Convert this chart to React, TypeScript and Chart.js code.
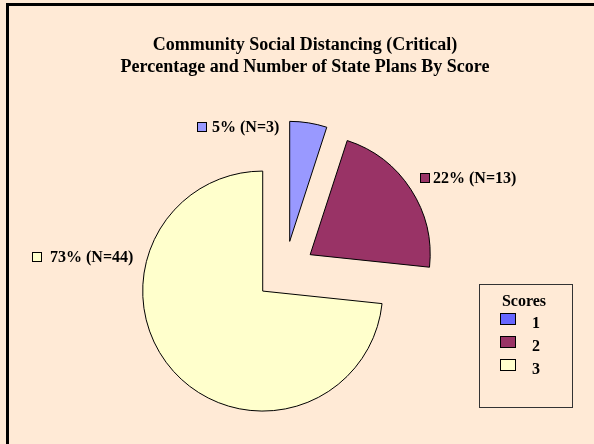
import React, { useEffect, useRef } from "react";
import { Chart, registerables } from "chart.js";

Chart.register(...registerables);

// ---- data ----
const categories = ["1", "2", "3"];
const counts = [3, 13, 44];
const percentLabels = ["5%", "22%", "73%"];
const titleLines = [
  "Community Social Distancing (Critical)",
  "Percentage and Number of State Plans By Score",
];
const legendTitle = "Scores";

// ---- styles ----
const sliceColors = ["#9999FF", "#993366", "#FFFFCC"];
const legendColors = ["#6666FF", "#993366", "#FFFFCC"];
const BG = "#FFEAD6";
const FONT = '"Liberation Serif", "Times New Roman", serif';
const EXPLODE = 30;

// label anchors (swatch top-left) for each slice label
const labelAnchors = [
  { x: 197, y: 122, gap: 15 },
  { x: 420, y: 173, gap: 13 },
  { x: 32, y: 252, gap: 18 },
];

const explodePlugin = {
  id: "explode",
  afterDatasetsUpdate(chart: any) {
    const meta = chart.getDatasetMeta(0);
    meta.data.forEach((arc: any) => {
      const mid = (arc.startAngle + arc.endAngle) / 2;
      arc.x += Math.cos(mid) * EXPLODE;
      arc.y += Math.sin(mid) * EXPLODE;
    });
  },
};

const decorPlugin = {
  id: "decor",
  beforeDraw(chart: any) {
    const ctx = chart.ctx as CanvasRenderingContext2D;
    ctx.save();
    ctx.fillStyle = BG;
    ctx.fillRect(0, 0, chart.width, chart.height);
    ctx.fillStyle = "#000";
    ctx.fillRect(6, 3, chart.width, 3);
    ctx.fillRect(6, 3, 3, chart.height);
    ctx.restore();
  },
  afterDraw(chart: any) {
    const ctx = chart.ctx as CanvasRenderingContext2D;
    ctx.save();
    ctx.fillStyle = "#000";
    ctx.textBaseline = "alphabetic";
    // title
    ctx.font = `bold 18px ${FONT}`;
    ctx.textAlign = "center";
    ctx.fillText(titleLines[0], 305, 50);
    ctx.fillText(titleLines[1], 305, 72);

    // slice labels
    ctx.font = `bold 16px ${FONT}`;
    ctx.textAlign = "left";
    counts.forEach((n, i) => {
      const a = labelAnchors[i];
      ctx.fillStyle = sliceColors[i];
      ctx.fillRect(a.x, a.y, 10, 10);
      ctx.strokeStyle = "#000";
      ctx.lineWidth = 1;
      ctx.strokeRect(a.x + 0.5, a.y + 0.5, 9, 9);
      ctx.fillStyle = "#000";
      ctx.fillText(`${percentLabels[i]} (N=${n})`, a.x + a.gap, a.y + 10);
    });

    // legend box
    ctx.strokeStyle = "#333";
    ctx.lineWidth = 1;
    ctx.strokeRect(479.5, 284.5, 93, 123);
    ctx.textAlign = "center";
    ctx.fillText(legendTitle, 524, 306);
    ctx.textAlign = "left";
    categories.forEach((c, i) => {
      const y = 313 + i * 23;
      ctx.fillStyle = legendColors[i];
      ctx.fillRect(500, y, 16, 12);
      ctx.strokeStyle = "#000";
      ctx.strokeRect(500.5, y + 0.5, 15, 11);
      ctx.fillStyle = "#000";
      ctx.fillText(c, 532, y + 15);
    });
    ctx.restore();
  },
};

export default function App() {
  const ref = useRef<HTMLCanvasElement | null>(null);
  useEffect(() => {
    document.body.style.margin = "0";
    if (!ref.current) return;
    const chart = new Chart(ref.current, {
      type: "pie",
      data: {
        labels: categories,
        datasets: [
          {
            data: counts,
            backgroundColor: sliceColors,
            borderColor: "#000",
            borderWidth: 1,
            radius: 120,
          } as any,
        ],
      },
      options: {
        animation: false,
        responsive: true,
        maintainAspectRatio: false,
        events: [],
        layout: { padding: { left: 0, right: 24, top: 98, bottom: 0 } },
        plugins: {
          legend: { display: false },
          title: { display: false },
          tooltip: { enabled: false },
        },
      },
      plugins: [explodePlugin, decorPlugin],
    });
    return () => chart.destroy();
  }, []);
  return (
    <div style={{ position: "fixed", left: 0, top: 0, width: 594, height: 444 }}>
      <canvas ref={ref} />
    </div>
  );
}
